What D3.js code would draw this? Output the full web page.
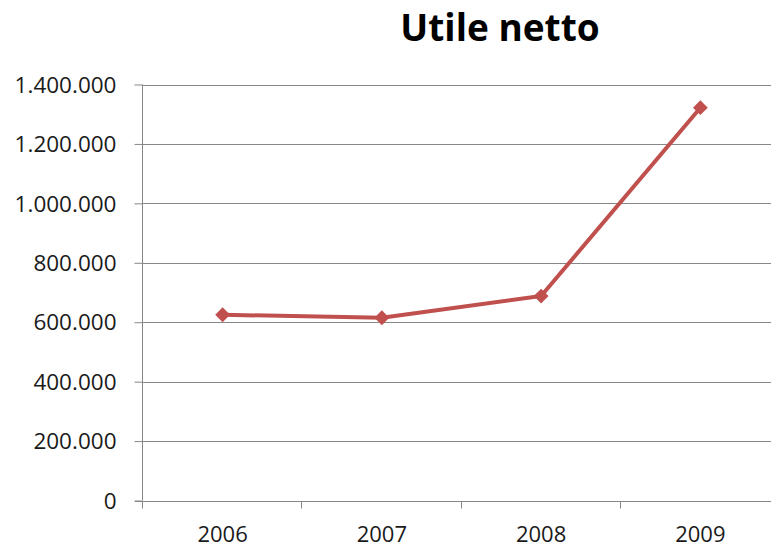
<!DOCTYPE html>
<html><head><meta charset="utf-8">
<script src="https://cdn.jsdelivr.net/npm/d3@7"></script>
<style>body{margin:0;background:#fff}svg{display:block}</style>
</head><body>
<svg id="c" width="771" height="547"></svg>
<script>
const categories = ["2006", "2007", "2008", "2009"];
const values = [625000, 615000, 688000, 1322000];
const yTicks = [0, 200000, 400000, 600000, 800000, 1000000, 1200000, 1400000];
const title = "Utile netto";

const svg = d3.select("#c");
const m = {left: 143, right: 780, top: 84.5, bottom: 500.5};
const x = d3.scaleBand().domain(categories).range([m.left, m.right]);
const y = d3.scaleLinear().domain([0, 1400000]).range([m.bottom, m.top]);
const fmt = v => v === 0 ? "0" : d3.format(",")(v).replace(/,/g, ".");
const font = "'Open Sans', sans-serif";
const grid = "#878787";

// gridlines
svg.append("g").selectAll("line").data(yTicks.filter(d => d > 0)).join("line")
  .attr("x1", m.left).attr("x2", m.right)
  .attr("y1", d => Math.round(y(d)) + 0.5).attr("y2", d => Math.round(y(d)) + 0.5)
  .attr("stroke", grid).attr("stroke-width", 1);

// y axis
const ya = svg.append("g").attr("transform", `translate(${m.left - 0.5},0)`)
  .call(d3.axisLeft(y).tickValues(yTicks).tickFormat(fmt).tickSize(8).tickPadding(18));
ya.select(".domain").attr("stroke", grid).attr("d", `M0,${m.top}V${m.bottom}`);
ya.selectAll(".tick line").attr("stroke", grid);
ya.selectAll(".tick text").attr("font-family", font).attr("font-size", 22.5).attr("fill", "#1a1a1a").attr("dy", "0.34em");

// x axis
const xa = svg.append("g").attr("transform", `translate(0,${Math.round(y(0)) + 0.5})`);
xa.append("line").attr("x1", m.left - 8).attr("x2", m.right).attr("stroke", grid);
const bounds = categories.map(c => x(c)).concat([x(categories[categories.length-1]) + x.bandwidth()]);
xa.selectAll("line.t").data(bounds).join("line").attr("class", "t")
  .attr("x1", d => Math.round(d) - 0.5).attr("x2", d => Math.round(d) - 0.5)
  .attr("y1", 0).attr("y2", 7).attr("stroke", grid);
xa.selectAll("text").data(categories).join("text")
  .attr("x", d => x(d) + x.bandwidth() / 2).attr("y", 40.5)
  .attr("text-anchor", "middle").attr("font-family", font).attr("font-size", 22).attr("fill", "#1a1a1a")
  .text(d => d);

// line
const pts = categories.map((c, i) => [x(c) + x.bandwidth() / 2, y(values[i])]);
svg.append("path").datum(pts).attr("d", d3.line())
  .attr("fill", "none").attr("stroke", "#C0504D").attr("stroke-width", 4).attr("stroke-linejoin", "round");
svg.append("g").selectAll("path").data(pts).join("path")
  .attr("d", d3.symbol(d3.symbolSquare, 110)())
  .attr("transform", d => `translate(${d[0]},${d[1]}) rotate(45)`)
  .attr("fill", "#C0504D");

// title
svg.append("text").attr("x", 500).attr("y", 40.5).attr("text-anchor", "middle")
  .attr("font-family", font).attr("font-weight", "bold").attr("font-size", 37).attr("fill", "#000")
  .text(title);
</script>
</body></html>
